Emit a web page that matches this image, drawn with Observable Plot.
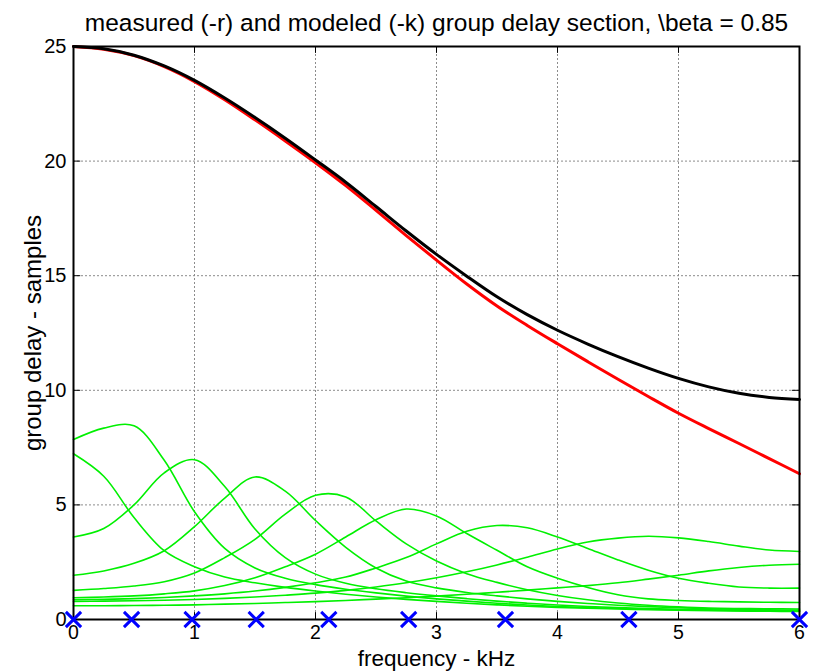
<!DOCTYPE html>
<html><head><meta charset="utf-8">
<script src="https://cdn.jsdelivr.net/npm/d3@7"></script>
<script src="https://cdn.jsdelivr.net/npm/@observablehq/plot@0.6"></script>
<style>body{margin:0;background:#fff}</style>
</head><body><div id="chart"></div>
<script>
// frequency grid (kHz) shared by all curves
const freq = [0,0.25,0.5,0.75,1,1.25,1.5,1.75,2,2.25,2.5,2.75,3,3.25,3.5,3.75,4,4.25,4.5,4.75,5,5.25,5.5,5.75,6];
// measured group delay (red) and modeled (black), samples
const measured = [25,24.88,24.6,24.12,23.47,22.68,21.8,20.88,19.93,18.93,17.85,16.75,15.68,14.64,13.68,12.83,12.03,11.25,10.48,9.73,9.0,8.33,7.68,7.02,6.36];
const modeled  = [25,24.9,24.62,24.15,23.52,22.75,21.9,21.0,20.05,19.08,18.02,16.95,15.93,14.98,14.08,13.3,12.62,12.02,11.47,10.97,10.52,10.15,9.87,9.69,9.6];
// group delay of each section (green), one array per section
const sec0   = [7.23,6.25,4.45,3.0,2.3,1.85,1.6,1.4,1.24,1.1,0.98,0.88,0.79,0.71,0.64,0.58,0.53,0.49,0.46,0.43,0.41,0.39,0.37,0.36,0.35];
const sec048 = [7.85,8.35,8.45,6.95,4.7,3.1,2.25,1.8,1.52,1.32,1.16,1.02,0.9,0.8,0.71,0.63,0.57,0.52,0.48,0.45,0.42,0.4,0.38,0.37,0.36];
const sec098 = [3.6,3.97,5.0,6.4,6.97,5.8,3.95,2.7,1.98,1.58,1.34,1.17,1.03,0.91,0.8,0.71,0.63,0.57,0.52,0.48,0.45,0.42,0.4,0.39,0.38];
const sec151 = [1.93,2.12,2.45,3.0,4.05,5.3,6.22,5.6,4.32,3.15,2.25,1.68,1.38,1.18,1.03,0.9,0.79,0.7,0.62,0.56,0.51,0.47,0.44,0.42,0.41];
const sec211 = [1.27,1.35,1.46,1.65,2.03,2.7,3.5,4.6,5.42,5.35,4.3,3.3,2.55,2.0,1.62,1.3,1.05,0.86,0.72,0.62,0.55,0.5,0.48,0.47,0.46];
const sec277 = [0.95,0.98,1.03,1.12,1.25,1.48,1.82,2.3,2.85,3.6,4.35,4.82,4.52,3.75,3.02,2.3,1.8,1.4,1.08,0.9,0.83,0.79,0.77,0.75,0.74];
const sec357 = [0.86,0.88,0.91,0.96,1.03,1.12,1.24,1.4,1.6,1.85,2.25,2.7,3.3,3.85,4.1,4.0,3.6,3.1,2.6,2.15,1.8,1.58,1.42,1.37,1.37];
const sec459 = [0.79,0.8,0.82,0.84,0.87,0.92,0.98,1.06,1.15,1.27,1.42,1.6,1.82,2.08,2.38,2.72,3.08,3.38,3.55,3.63,3.56,3.4,3.2,3.03,2.97];
const sec6   = [0.6,0.6,0.61,0.62,0.64,0.67,0.7,0.74,0.78,0.83,0.89,0.95,1.02,1.1,1.19,1.28,1.38,1.48,1.6,1.76,1.93,2.12,2.27,2.37,2.41];
// section centre frequencies (blue x markers)
const markerFreq = [0,0.48,0.98,1.51,2.11,2.77,3.57,4.59,6.0];
const xTicks = [0,1,2,3,4,5,6];
const yTicks = [0,5,10,15,20,25];
const titleText = "measured (-r) and modeled (-k) group delay section, \\beta = 0.85";
const xLabel = "frequency - kHz";
const yLabel = "group delay - samples";

const sections = [sec0, sec048, sec098, sec151, sec211, sec277, sec357, sec459, sec6];
const green = sections.flatMap((s, i) => s.map((v, j) => ({f: freq[j], v, id: i})));
const red = measured.map((v, j) => ({f: freq[j], v}));
const black = modeled.map((v, j) => ({f: freq[j], v}));
const marks = markerFreq.map(f => ({f, v: 0}));
const innerX = xTicks.slice(1, -1), innerY = yTicks.slice(1, -1);
const font = "'Liberation Sans', Arial, Helvetica, sans-serif";

const chart = Plot.plot({
  width: 815, height: 671,
  marginLeft: 73, marginRight: 16, marginTop: 46, marginBottom: 52,
  style: {fontFamily: font, background: "white", color: "black"},
  x: {domain: [0, 6]},
  y: {domain: [0, 25]},
  marks: [
    Plot.gridX(innerX, {stroke: "#8c8c8c", strokeOpacity: 1, strokeDasharray: "2,2", strokeWidth: 1}),
    Plot.gridY(innerY, {stroke: "#8c8c8c", strokeOpacity: 1, strokeDasharray: "2,2", strokeWidth: 1}),
    Plot.ruleX(xTicks, {y1: 0, y2: 0.3, stroke: "black", strokeWidth: 1}),
    Plot.ruleX(xTicks, {y1: 25, y2: 24.7, stroke: "black", strokeWidth: 1}),
    Plot.ruleY(yTicks, {x1: 0, x2: 0.06, stroke: "black", strokeWidth: 1}),
    Plot.ruleY(yTicks, {x1: 6, x2: 5.94, stroke: "black", strokeWidth: 1}),
    Plot.line(green, {x: "f", y: "v", z: "id", stroke: "#00f000", strokeWidth: 1.6, curve: "catmull-rom"}),
    Plot.line(red, {x: "f", y: "v", stroke: "#ff0000", strokeWidth: 3, curve: "catmull-rom"}),
    Plot.line(black, {x: "f", y: "v", stroke: "black", strokeWidth: 3, curve: "catmull-rom"}),
    Plot.frame({stroke: "black", strokeWidth: 2}),
    Plot.axisX(xTicks, {tickSize: 0, tickPadding: 6, fontSize: 19.5, tickFormat: "d", label: null}),
    Plot.axisY(yTicks, {tickSize: 0, tickPadding: 7, fontSize: 20, tickFormat: "d", label: null}),
    Plot.dot(marks, {x: "f", y: "v", symbol: "times", r: 7, stroke: "#0000ff", strokeWidth: 3}),
    Plot.text([titleText], {frameAnchor: "top", dy: -33, fontSize: 24.5, fill: "black"}),
    Plot.text([xLabel], {frameAnchor: "bottom", dy: 46, fontSize: 22.5, fill: "black"}),
    Plot.text([yLabel], {frameAnchor: "left", textAnchor: "middle", dx: -40, rotate: -90, fontSize: 24, fill: "black"})
  ]
});
document.getElementById("chart").appendChild(chart);
</script>
</body></html>
